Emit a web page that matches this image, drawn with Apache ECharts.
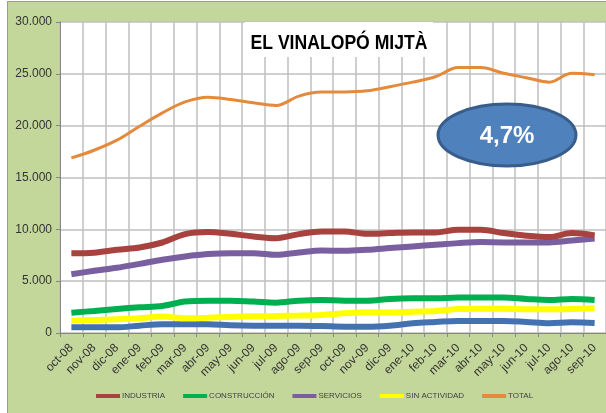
<!DOCTYPE html>
<html>
<head>
<meta charset="utf-8">
<script src="https://cdn.jsdelivr.net/npm/echarts@6/dist/echarts.min.js"></script>
<style>
  html, body { margin: 0; padding: 0; background: #fff; }
  #chart {
    position: absolute; left: 7px; top: 1px;
    width: 599px; height: 412px;
    border-left: 1px solid #9a9a9a; border-top: 1px solid #9a9a9a;
  }
</style>
</head>
<body>
<div id="chart"></div>
<script>
const months = ['oct-08','nov-08','dic-08','ene-09','feb-09','mar-09','abr-09','may-09','jun-09','jul-09','ago-09','sep-09',
  'oct-09','nov-09','dic-09','ene-10','feb-10','mar-10','abr-10','may-10','jun-10','jul-10','ago-10','sep-10'];

const industria = [7700,7750,8030,8250,8730,9540,9740,9570,9310,9150,9540,9800,9800,9570,9640,9700,9700,9960,9960,9640,9380,9250,9640,9410];
const construccion = [1960,2130,2320,2480,2610,3030,3120,3120,3030,2930,3120,3190,3120,3120,3290,3350,3350,3420,3420,3420,3290,3190,3290,3190];
const servicios = [5670,6000,6290,6670,7060,7380,7610,7700,7700,7540,7770,7960,7930,8030,8190,8350,8510,8670,8770,8740,8740,8740,8930,9120];
const sinActividad = [1190,1260,1320,1420,1580,1420,1480,1550,1610,1640,1680,1740,1900,2000,1970,2060,2130,2320,2350,2350,2290,2290,2320,2380];
const agricultura = [550,550,550,710,840,840,840,740,710,710,710,680,610,610,710,940,1060,1160,1160,1160,1060,940,1030,970];
const total = [16890,17630,18600,19950,21240,22300,22750,22530,22210,21950,22850,23240,23250,23370,23760,24200,24720,25600,25600,25050,24630,24200,25050,24920];

const legendNames = ['INDUSTRIA','CONSTRUCCIÓN','SERVICIOS','SIN ACTIVIDAD','TOTAL'];
const yTicks = { min: 0, max: 30000, interval: 5000 };
const titleText = 'EL VINALOPÓ MIJTÀ';
const badgeText = '4,7%';

const chart = echarts.init(document.getElementById('chart'));

const fmt = v => v === 0 ? '0' : String(v).replace(/\B(?=(\d{3})+(?!\d))/g, '.');

const mkLine = (name, data, color, width) => ({
  name, type: 'line', data, symbol: 'none', smooth: 0.35,
  lineStyle: { color, width }, itemStyle: { color }
});

chart.setOption({
  backgroundColor: '#C4D79B',
  animation: false,
  textStyle: { fontFamily: 'Liberation Sans' },
  grid: {
    left: 52, top: 20, right: 1, bottom: 81,
    show: true, backgroundColor: '#ffffff', borderWidth: 0
  },
  legend: {
    data: legendNames,
    left: 83, top: 385,
    icon: 'rect', itemWidth: 24, itemHeight: 4, itemGap: 18,
    textStyle: { fontSize: 8, color: '#404040', padding: [0, 0, 0, -3] }
  },
  xAxis: {
    type: 'category',
    data: months,
    boundaryGap: true,
    axisLine: { lineStyle: { color: '#868686', width: 1 } },
    axisTick: { show: true, length: 4, inside: false, lineStyle: { color: '#868686' } },
    splitLine: { show: true, lineStyle: { color: '#BFBFBF', width: 1.5 } },
    axisLabel: { rotate: 45, fontSize: 12, color: '#333', margin: 13, interval: 0 }
  },
  yAxis: {
    type: 'value',
    min: yTicks.min, max: yTicks.max, interval: yTicks.interval,
    axisLine: { show: true, lineStyle: { color: '#868686', width: 1 } },
    axisTick: { show: true, length: 4, lineStyle: { color: '#868686' } },
    splitLine: { lineStyle: { color: '#BFBFBF', width: 1.5 } },
    axisLabel: { fontSize: 12, color: '#333', margin: 8, formatter: fmt }
  },
  series: [
    mkLine('AGRICULTURA', agricultura, '#4472B0', 6),
    mkLine('SIN ACTIVIDAD', sinActividad, '#FFFF00', 6),
    mkLine('CONSTRUCCIÓN', construccion, '#00B050', 6),
    mkLine('SERVICIOS', servicios, '#7A5FA0', 6),
    mkLine('INDUSTRIA', industria, '#A8423F', 6),
    mkLine('TOTAL', total, '#E48A3C', 3)
  ],
  graphic: [
    {
      type: 'rect', left: 237, top: 20, z: 10,
      shape: { width: 188, height: 35 },
      style: { fill: '#ffffff' }
    },
    {
      type: 'text', x: 331, y: 41, z: 11, scaleX: 0.88,
      style: {
        text: titleText, font: 'bold 20px "Liberation Sans"',
        fill: '#000', align: 'center', verticalAlign: 'middle'
      }
    },
    {
      type: 'ellipse', z: 10,
      shape: { cx: 499, cy: 133, rx: 69, ry: 31 },
      style: { fill: '#4F81BD', stroke: '#385D8A', lineWidth: 3 }
    },
    {
      type: 'text', x: 499, y: 134, z: 11,
      style: {
        text: badgeText, font: 'bold 24px "Liberation Sans"',
        fill: '#fff', align: 'center', verticalAlign: 'middle'
      }
    }
  ]
});

window.addEventListener('resize', () => chart.resize());
</script>
</body>
</html>
